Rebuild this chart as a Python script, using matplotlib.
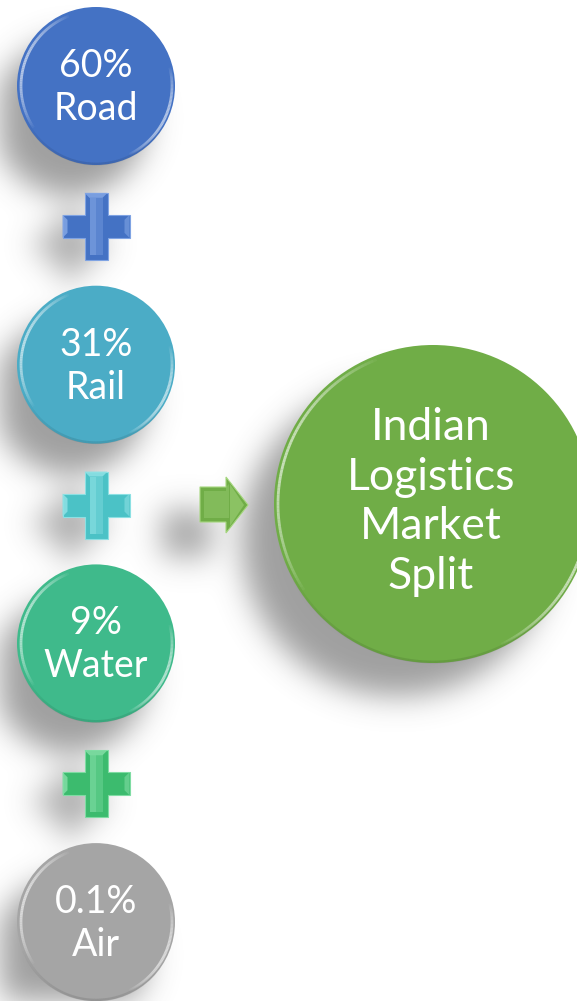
import numpy as np
import matplotlib
matplotlib.use("Agg")
import matplotlib.pyplot as plt
from matplotlib.patches import Circle, Polygon
from matplotlib.collections import LineCollection

# ---------------- data ----------------
modes = ["Road", "Rail", "Water", "Air"]
shares = [60, 31, 9, 0.1]
mode_colors = ["#4472C4", "#4BACC6", "#3FBA8B", "#A5A5A5"]
plus_colors = ["#4472C4", "#4BC2C6", "#3CBB6E"]
plus_light = ["#7FA3E3", "#8CE0E3", "#7FDCA3"]
center_lines = ["Indian", "Logistics", "Market", "Split"]
center_color = "#70AD47"
arrow_color = "#70AD47"
arrow_light = "#A6D77F"

# ---------------- layout ----------------
W, H = 577, 1001
fig = plt.figure(figsize=(W / 100, H / 100), dpi=100)
ax = fig.add_axes([0, 0, 1, 1])
ax.set_xlim(0, W)
ax.set_ylim(H, 0)
ax.set_aspect("equal")
ax.axis("off")

FONT = ["Lato", "DejaVu Sans"]

col_x = 96
r_small = 79
y0, step = 86, 278.7
big_c = (433, 504)
big_r = 159

# --------------- shadows (blurred offset masks) ---------------
yy, xx = np.mgrid[0:H, 0:W].astype(float)
mask = np.zeros((H, W))


def add_circle_mask(cx, cy, r, w=1.0):
    global mask
    mask = np.maximum(mask, w * ((xx - cx) ** 2 + (yy - cy) ** 2 <= r ** 2))


def add_rect_mask(x0, x1, y0_, y1_, w=1.0):
    global mask
    m = (xx >= x0) & (xx <= x1) & (yy >= y0_) & (yy <= y1_)
    mask = np.maximum(mask, w * m)


sh_dx, sh_dy = -26, 32
for i in range(len(modes)):
    cy = y0 + i * step
    add_circle_mask(col_x + sh_dx, cy + sh_dy, r_small * 0.98, 0.9)
for i in range(len(modes) - 1):
    cy = y0 + i * step + step / 2
    add_rect_mask(col_x - 33 + sh_dx, col_x + 33 + sh_dx, cy - 11 + sh_dy * 0.6, cy + 11 + sh_dy * 0.6, 0.85)
    add_rect_mask(col_x - 11 + sh_dx, col_x + 11 + sh_dx, cy - 33 + sh_dy * 0.6, cy + 33 + sh_dy * 0.6, 0.85)
add_circle_mask(big_c[0] - 36, big_c[1] + 36, big_r * 0.98, 0.9)
add_rect_mask(200 - 38, 248 - 38, 482 + 28, 528 + 28, 0.85)

sigma = 15.0
pad = int(4 * sigma)
m = np.pad(mask, pad)
fy = np.fft.fftfreq(m.shape[0])[:, None]
fx = np.fft.fftfreq(m.shape[1])[None, :]
kern = np.exp(-2 * (np.pi ** 2) * sigma ** 2 * (fx ** 2 + fy ** 2))
blur = np.real(np.fft.ifft2(np.fft.fft2(m) * kern))[pad:-pad, pad:-pad]
blur = np.clip(blur, 0, 1)
shadow = np.zeros((H, W, 4))
shadow[..., 0:3] = 0.33
shadow[..., 3] = blur * 0.62
ax.imshow(shadow, extent=(0, W, H, 0), zorder=1, interpolation="bilinear")


# --------------- helpers ---------------
def rim(cx, cy, r, t0, t1, color=(1, 1, 1), alpha=0.55, lw=2.2, z=4):
    t = np.radians(np.linspace(t0, t1, 80))
    x = cx + r * np.cos(t)
    y = cy - r * np.sin(t)
    segs = np.stack([np.column_stack([x[:-1], y[:-1]]), np.column_stack([x[1:], y[1:]])], axis=1)
    u = np.linspace(0, 1, len(segs))
    a = alpha * np.sin(np.pi * u) ** 0.8
    cols = np.zeros((len(segs), 4))
    cols[:, :3] = color
    cols[:, 3] = a
    ax.add_collection(LineCollection(segs, colors=cols, linewidths=lw, zorder=z,
                                     capstyle="butt"))


def bevel_circle(cx, cy, r, color, z=3):
    ax.add_patch(Circle((cx, cy), r, facecolor=color, edgecolor="none", zorder=z))
    rim(cx, cy, r - 4, 110, 215, alpha=0.6, lw=2.0, z=z + 1)
    rim(cx, cy, r - 3, 15, -65, alpha=0.6, lw=2.0, z=z + 1)
    rim(cx, cy, r - 1, 200, 330, color=(0, 0, 0), alpha=0.10, lw=2.0, z=z + 1)


def plus(cx, cy, color, light, H_=33.5, w=11.5, b=5, z=3):
    pts = [(cx - w, cy - H_), (cx + w, cy - H_), (cx + w, cy - w), (cx + H_, cy - w),
           (cx + H_, cy + w), (cx + w, cy + w), (cx + w, cy + H_), (cx - w, cy + H_),
           (cx - w, cy + w), (cx - H_, cy + w), (cx - H_, cy - w), (cx - w, cy - w)]
    ax.add_patch(Polygon(pts, closed=True, facecolor=color,
                         edgecolor=light, lw=0.8, zorder=z))
    ax.add_patch(Polygon([(cx - w + b, cy - H_ + b), (cx, cy - H_ + b), (cx, cy + H_ - b),
                          (cx - w + b, cy + H_ - b)], closed=True,
                         facecolor=light, edgecolor="none", alpha=0.7, zorder=z + 1))
    ax.add_patch(Polygon([(cx, cy - H_ + b), (cx + w - b, cy - H_ + b), (cx + w - b, cy + H_ - b),
                          (cx, cy + H_ - b)], closed=True,
                         facecolor=light, edgecolor="none", alpha=0.4, zorder=z + 1))
    ax.add_patch(Polygon([(cx - w, cy - H_), (cx + w, cy - H_), (cx + w - b, cy - H_ + b),
                          (cx - w + b, cy - H_ + b)], closed=True,
                         facecolor=light, edgecolor="none", alpha=0.9, zorder=z + 1))
    ax.add_patch(Polygon([(cx - H_, cy - w), (cx - H_ + b, cy - w + b), (cx - H_ + b, cy + w - b),
                          (cx - H_, cy + w)], closed=True,
                         facecolor=light, edgecolor="none", alpha=0.9, zorder=z + 1))
    ax.add_patch(Polygon([(cx + H_, cy - w), (cx + H_ - b, cy - w + b), (cx + H_ - b, cy + w - b),
                          (cx + H_, cy + w)], closed=True,
                         facecolor=light, edgecolor="none", alpha=0.6, zorder=z + 1))


# --------------- mode circles ---------------
for i, (name, s, c) in enumerate(zip(modes, shares, mode_colors)):
    cy = y0 + i * step
    bevel_circle(col_x, cy, r_small, c)
    ax.text(col_x, cy - 9, f"{s:g}%", ha="center", va="baseline", color="white",
            fontsize=27, family=FONT, zorder=6)
    ax.text(col_x, cy + 34, name, ha="center", va="baseline", color="white",
            fontsize=27, family=FONT, zorder=6)

# --------------- plus signs ---------------
for i, (c, lc) in enumerate(zip(plus_colors, plus_light)):
    cy = y0 + i * step + step / 2 + 1
    plus(col_x, cy, c, lc)

# --------------- arrow ---------------
arrow_pts = [(200, 487), (226, 487), (226, 477), (248, 505), (226, 533), (226, 522), (200, 522)]
ax.add_patch(Polygon(arrow_pts, closed=True, facecolor=arrow_color,
                     edgecolor=arrow_light, lw=0.8, zorder=3))
ax.add_patch(Polygon([(204, 491), (226, 491), (226, 487), (229, 484), (229, 518), (226, 518), (204, 518)],
                     closed=True, facecolor=arrow_light, edgecolor="none", alpha=0.35, zorder=4))
ax.add_patch(Polygon([(230, 484), (244, 505), (230, 526)], closed=True,
                     facecolor=arrow_light, edgecolor="none", alpha=0.5, zorder=4))

# --------------- big circle ---------------
bevel_circle(big_c[0], big_c[1], big_r, center_color)
base_offsets = [-64, -14, 35, 85]
for line, off in zip(center_lines, base_offsets):
    ax.text(big_c[0] - 2, big_c[1] + off, line, ha="center", va="baseline",
            color="white", fontsize=32, family=FONT, zorder=6)

fig.savefig("out.png", dpi=100)
